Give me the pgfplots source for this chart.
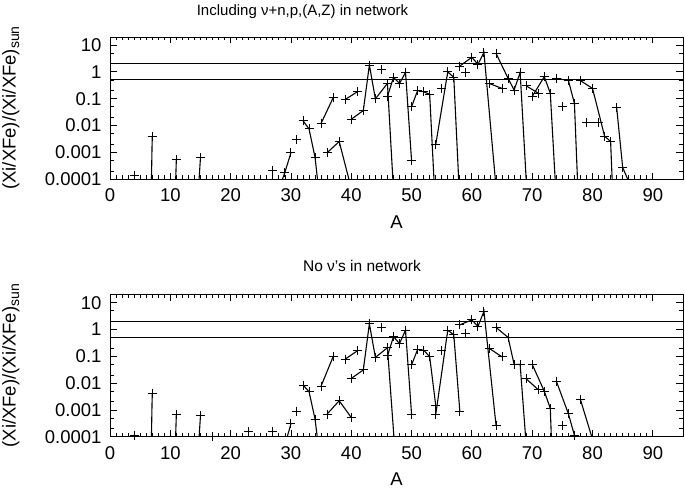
\documentclass[border=0pt]{standalone}
\usepackage{fontspec}
\setmainfont{Liberation Sans}
\usepackage{pgfplots}
\pgfplotsset{compat=1.18}
\pgfplotsset{
  mypanel/.style={
    anchor=south west, scale only axis,
    width=573pt, height=142pt,
    xmin=0, xmax=95, ymin=1e-4, ymax=20,
    xtick={0,10,...,90}, minor x tick num=9,
    ytick={1e-4,1e-3,1e-2,1e-1,1,10},
    yticklabels={0.0001,0.001,0.01,0.1,1,10},
    minor ytick={2e-4,5e-4,2e-3,5e-3,2e-2,5e-2,0.2,0.5,2,5},
    tick align=inside, major tick length=6.5pt, minor tick length=3.5pt,
    every tick/.style={black, line width=0.8pt},
    axis line style={line width=0.9pt},
    ticklabel style={font=\fontsize{18.5}{21}\selectfont},
    xticklabel style={yshift=-6.5pt},
    yticklabel style={xshift=-5pt},
    /pgf/number format/assume math mode=true,
    xlabel={A},
    ylabel={(Xi/XFe)/(Xi/XFe)\raisebox{-0.35ex}{\fontsize{14}{16}\selectfont sun}},
    every axis x label/.style={at={(axis description cs:0.5,-0.302)}, anchor=center, font=\fontsize{18.5}{21}\selectfont},
    every axis y label/.style={at={(axis description cs:-0.173,0.5)}, rotate=90, anchor=center, font=\fontsize{18.5}{21}\selectfont},
  },
  ch/.style={black, line width=1.1pt, mark=+, mark size=4.5pt, mark options={solid, line width=1pt}},
  ln/.style={black, line width=1.1pt, no marks},
  mk/.style={black, only marks, mark=+, mark size=4.5pt, mark options={solid, line width=1pt}},
  ref/.style={black, line width=1pt, no marks},
}
\begin{document}
\begin{tikzpicture}[x=1pt,y=1pt]
\path[use as bounding box] (0pt,0pt) rectangle (685pt,492pt);
\node[font=\fontsize{15}{18}\selectfont] at (302.5pt,480pt) {Including ν+n,p,(A,Z) in network};
\node[font=\fontsize{15.5}{18}\selectfont] at (362pt,226pt) {No ν's in network};
% ---------------- top panel ----------------
\begin{axis}[ymode=log, mypanel, at={(110pt,313pt)}]
\addplot[ref] coordinates {(0,2) (95,2)};
\addplot[ref] coordinates {(0,0.5) (95,0.5)};
\addplot[ch] coordinates {(4,1.3e-4)};
\addplot[ln] coordinates {(6,1e-15) (7,0.0038)};
\addplot[mk] coordinates {(7,0.0038)};
\addplot[ln] coordinates {(10,5e-11) (11,5.4e-4)};
\addplot[mk] coordinates {(11,5.4e-4)};
\addplot[ln] coordinates {(14,2e-7) (15,6.3e-4)};
\addplot[mk] coordinates {(15,6.3e-4)};
\addplot[ch] coordinates {(27,2e-4)};
\addplot[ln] coordinates {(28,4e-5) (29,1.8e-4) (30,9.5e-4)};
\addplot[mk] coordinates {(29,1.8e-4) (30,9.5e-4)};
\addplot[ch] coordinates {(31,0.0029)};
\addplot[ln] coordinates {(32,0.015) (33,0.0074) (34,6.3e-4) (36,6e-8)};
\addplot[mk] coordinates {(32,0.015) (33,0.0074) (34,6.3e-4)};
\addplot[ch] coordinates {(35,0.012) (37,0.108)};
\addplot[ln] coordinates {(36,9.6e-4) (38,0.0025) (40,4.5e-5)};
\addplot[mk] coordinates {(36,9.6e-4) (38,0.0025)};
\addplot[ch] coordinates {(39,0.093) (41,0.18)};
\addplot[ln] coordinates {(40,0.017) (42,0.036) (43,1.8) (44,0.098) (46,0.37) (48,4e-9)};
\addplot[mk] coordinates {(40,0.017) (42,0.036) (43,1.8) (44,0.098) (46,0.37)};
\addplot[ch] coordinates {(45,1.23)};
\addplot[ch] coordinates {(46,0.12) (47,0.62) (48,0.37) (49,0.95) (50,4.8e-4)};
\addplot[ln] coordinates {(50,0.05) (51,0.2) (52,0.18) (53,0.145) (54,5e-6)};
\addplot[mk] coordinates {(50,0.05) (51,0.2) (52,0.18) (53,0.145)};
\addplot[ch] coordinates {(55,0.24)};
\addplot[ln] coordinates {(54,0.0019) (56,1.0) (57,0.62) (58,1.2e-5)};
\addplot[mk] coordinates {(54,0.0019) (56,1.0) (57,0.62)};
\addplot[ch] coordinates {(59,0.95)};
\addplot[ln] coordinates {(58,1.65) (60,3.5) (61,1.9) (62,5.3) (64,5e-5)};
\addplot[mk] coordinates {(58,1.65) (60,3.5) (61,1.9) (62,5.3)};
\addplot[ch] coordinates {(63,0.36) (65,0.24)};
\addplot[ln] coordinates {(64,4.9) (66,0.57) (67,0.21) (68,0.95) (70,1e-8)};
\addplot[mk] coordinates {(64,4.9) (66,0.57) (67,0.21) (68,0.95)};
\addplot[ch] coordinates {(69,0.30) (71,0.16)};
\addplot[ln] coordinates {(70,0.12) (72,0.66) (73,0.16) (74,1.6e-5)};
\addplot[mk] coordinates {(70,0.12) (72,0.66) (73,0.16)};
\addplot[ch] coordinates {(75,0.05)};
\addplot[ln] coordinates {(74,0.57) (76,0.48) (77,0.066) (78,1.6e-7)};
\addplot[mk] coordinates {(74,0.57) (76,0.48) (77,0.066)};
\addplot[ch] coordinates {(79,0.0126) (81,0.0126)};
\addplot[ln] coordinates {(78,0.47) (80,0.24) (82,0.004) (83,0.0025) (84,6e-9)};
\addplot[mk] coordinates {(78,0.47) (80,0.24) (82,0.004) (83,0.0025)};
\addplot[ln] coordinates {(84,0.047) (85,2.7e-4) (86,8e-5)};
\addplot[mk] coordinates {(84,0.047) (85,2.7e-4)};
\end{axis}
% ---------------- bottom panel ----------------
\begin{axis}[ymode=log, mypanel, at={(110pt,55.3pt)}]
\addplot[ref] coordinates {(0,2) (95,2)};
\addplot[ref] coordinates {(0,0.5) (95,0.5)};
\addplot[ch] coordinates {(4,1.15e-4)};
\addplot[ln] coordinates {(6,1e-15) (7,0.0042)};
\addplot[mk] coordinates {(7,0.0042)};
\addplot[ln] coordinates {(10,5e-11) (11,7e-4)};
\addplot[mk] coordinates {(11,7e-4)};
\addplot[ln] coordinates {(14,2e-7) (15,6e-4)};
\addplot[mk] coordinates {(15,6e-4)};
\addplot[ch] coordinates {(17,1.02e-4)};
\addplot[ch] coordinates {(23,1.55e-4)};
\addplot[ch] coordinates {(27,1.6e-4)};
\addplot[ln] coordinates {(28,1e-6) (29,5e-5) (30,3e-4)};
\addplot[mk] coordinates {(30,3e-4)};
\addplot[ch] coordinates {(31,9e-4)};
\addplot[ln] coordinates {(32,0.0085) (33,0.0048) (34,4.5e-4) (36,9e-8)};
\addplot[mk] coordinates {(32,0.0085) (33,0.0048) (34,4.5e-4)};
\addplot[ch] coordinates {(35,0.0078) (37,0.098)};
\addplot[ch] coordinates {(36,7e-4) (38,0.0022) (40,5.2e-4)};
\addplot[ch] coordinates {(39,0.079) (41,0.16)};
\addplot[ln] coordinates {(40,0.015) (42,0.031) (43,1.65) (44,0.091) (46,0.21) (48,1.3e-7)};
\addplot[mk] coordinates {(40,0.015) (42,0.031) (43,1.65) (44,0.091) (46,0.21)};
\addplot[ch] coordinates {(45,1.15)};
\addplot[ch] coordinates {(46,0.104) (47,0.54) (48,0.30) (49,0.95) (50,6.7e-4)};
\addplot[ch] coordinates {(50,0.048) (51,0.18) (52,0.17) (53,0.097) (54,0.0015)};
\addplot[ch] coordinates {(55,0.16)};
\addplot[ch] coordinates {(54,6.5e-4) (56,0.95) (57,0.63) (58,9e-4)};
\addplot[ch] coordinates {(59,0.70)};
\addplot[ch] coordinates {(58,1.5) (60,2.3) (61,1.3) (62,4.8) (64,2.7e-4)};
\addplot[ch] coordinates {(63,0.19) (65,0.095)};
\addplot[ln] coordinates {(64,1.2) (66,0.51) (67,0.05) (68,0.05) (70,5e-8)};
\addplot[mk] coordinates {(64,1.2) (66,0.51) (67,0.05) (68,0.05)};
\addplot[ch] coordinates {(69,0.0145) (71,0.0057)};
\addplot[ln] coordinates {(70,0.05) (72,0.005) (73,0.00114) (74,7e-10)};
\addplot[mk] coordinates {(70,0.05) (72,0.005) (73,0.00114)};
\addplot[ch] coordinates {(75,2.6e-4)};
\addplot[ln] coordinates {(74,0.0118) (76,7.2e-4) (77,1.12e-4) (78,1e-8)};
\addplot[mk] coordinates {(74,0.0118) (76,7.2e-4) (77,1.12e-4)};
\addplot[ln] coordinates {(78,0.0024) (80,8e-5)};
\addplot[mk] coordinates {(78,0.0024)};
\end{axis}
\end{tikzpicture}
\end{document}
